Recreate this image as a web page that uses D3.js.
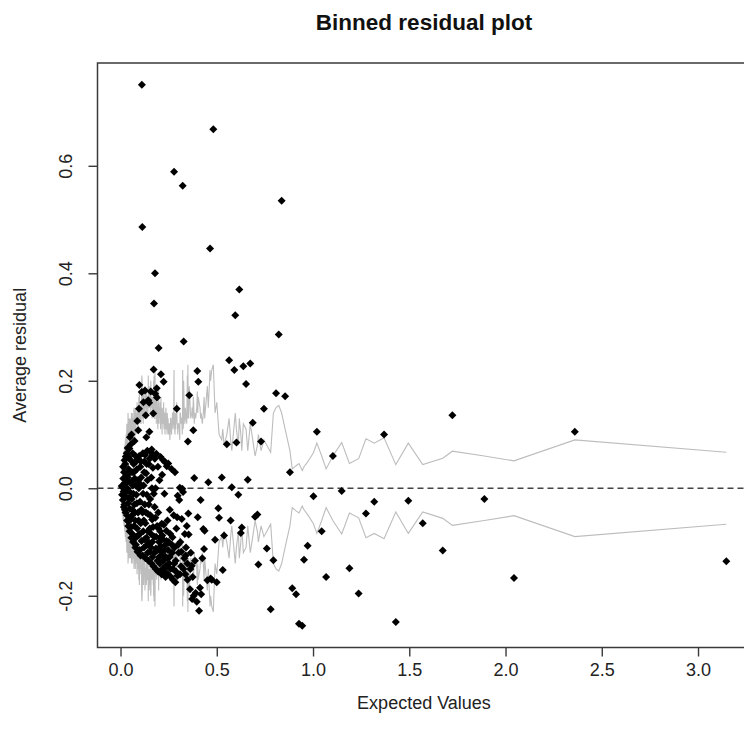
<!DOCTYPE html>
<html>
<head>
<meta charset="utf-8">
<title>Binned residual plot</title>
<script src="https://cdn.jsdelivr.net/npm/d3@7"></script>
<style>
  body { margin: 0; background: #fff; }
  svg { display: block; font-family: "Liberation Sans", Arial, sans-serif; }
  .frame { fill: none; stroke: #3a3a3a; stroke-width: 1.5; }
  .zero { stroke: #444; stroke-width: 1.4; stroke-dasharray: 6 4; }
  .band { fill: none; stroke: #bdbdbd; stroke-width: 1.1; }
  .axis line { stroke: #3a3a3a; stroke-width: 1.4; }
  .axis text { fill: #222; font-size: 18px; font-family: "Liberation Sans", Arial, sans-serif; }
</style>
</head>
<body>
<div id="chart"></div>
<script>
"use strict";
//each bin: [expected value, average residual, 2 * standard error]
//low expected values, the dense cloud
var binsLow = [
  [0.006, 0.004, 0.04], [0.008, -0.012, 0.03], [0.010, 0.002, 0.05], [0.012, -0.022, 0.04],
  [0.014, 0.018, 0.06], [0.016, -0.006, 0.05], [0.018, 0.030, 0.07], [0.020, -0.030, 0.06],
  [0.022, 0.010, 0.08], [0.023, -0.040, 0.07], [0.025, 0.045, 0.09], [0.027, 0.059, 0.08],
  [0.029, -0.016, 0.10], [0.031, 0.024, 0.07], [0.033, -0.050, 0.12], [0.035, 0.000, 0.09],
  [0.037, 0.075, 0.08], [0.039, -0.028, 0.14], [0.041, 0.036, 0.10], [0.043, -0.062, 0.09],
  [0.045, 0.012, 0.11], [0.046, 0.074, 0.08], [0.048, -0.038, 0.13], [0.049, 0.095, 0.10],
  [0.051, -0.008, 0.12], [0.053, 0.052, 0.09], [0.055, -0.072, 0.11], [0.057, 0.100, 0.14],
  [0.058, -0.020, 0.10], [0.060, 0.030, 0.12], [0.062, -0.085, 0.09], [0.064, 0.005, 0.13],
  [0.066, -0.048, 0.11], [0.068, 0.045, 0.10], [0.070, -0.095, 0.15], [0.072, -0.030, 0.12],
  [0.074, 0.018, 0.09], [0.076, -0.060, 0.13], [0.078, 0.060, 0.11], [0.080, -0.105, 0.10],
  [0.082, -0.012, 0.14], [0.084, 0.035, 0.12], [0.086, -0.075, 0.16], [0.087, 0.125, 0.13],
  [0.089, 0.055, 0.15], [0.091, -0.045, 0.11], [0.093, -0.088, 0.12], [0.095, 0.000, 0.17],
  [0.096, 0.148, 0.14], [0.098, 0.192, 0.18], [0.100, -0.115, 0.13], [0.101, -0.025, 0.12],
  [0.103, 0.040, 0.15], [0.105, -0.065, 0.14], [0.107, 0.020, 0.12], [0.109, -0.098, 0.16],
  [0.110, 0.179, 0.20], [0.111, 0.751, 0.21], [0.113, 0.486, 0.19], [0.114, -0.045, 0.13],
  [0.116, 0.065, 0.15], [0.118, -0.080, 0.12], [0.120, 0.005, 0.17], [0.122, -0.110, 0.14],
  [0.124, 0.050, 0.13], [0.126, -0.030, 0.16], [0.127, 0.182, 0.19], [0.129, -0.065, 0.15],
  [0.131, 0.136, 0.18], [0.133, 0.028, 0.14], [0.135, -0.092, 0.16], [0.137, -0.012, 0.13],
  [0.139, 0.070, 0.17], [0.141, -0.120, 0.15], [0.143, -0.048, 0.14], [0.144, 0.164, 0.21],
  [0.146, 0.045, 0.16], [0.148, -0.101, 0.18], [0.149, 0.159, 0.19], [0.150, 0.105, 0.17],
  [0.152, -0.075, 0.15], [0.154, -0.020, 0.14], [0.156, 0.068, 0.16], [0.158, -0.110, 0.19],
  [0.160, 0.020, 0.15], [0.162, 0.072, 0.16], [0.164, -0.058, 0.13], [0.166, -0.128, 0.17],
  [0.168, 0.038, 0.14], [0.170, 0.139, 0.18], [0.172, 0.221, 0.20], [0.174, 0.344, 0.21],
  [0.175, -0.090, 0.15], [0.177, -0.035, 0.13], [0.179, 0.400, 0.22], [0.180, 0.176, 0.17],
  [0.182, 0.000, 0.14], [0.184, -0.112, 0.16], [0.186, 0.064, 0.12], [0.188, 0.186, 0.17],
  [0.189, 0.169, 0.15], [0.190, -0.070, 0.15], [0.192, -0.135, 0.13], [0.194, 0.040, 0.11],
  [0.196, -0.045, 0.14], [0.198, 0.261, 0.19], [0.200, -0.100, 0.12], [0.202, 0.015, 0.15],
  [0.204, -0.140, 0.13], [0.206, -0.080, 0.16], [0.208, 0.058, 0.11], [0.210, 0.212, 0.17],
  [0.212, -0.118, 0.12], [0.214, -0.066, 0.14], [0.216, 0.025, 0.10], [0.218, -0.150, 0.13],
  [0.220, -0.095, 0.15], [0.222, 0.052, 0.12], [0.224, 0.198, 0.16], [0.226, -0.125, 0.11],
  [0.228, -0.010, 0.14], [0.230, -0.155, 0.12], [0.231, 0.049, 0.10], [0.233, -0.105, 0.13],
  [0.236, -0.144, 0.15], [0.238, -0.079, 0.11], [0.240, 0.041, 0.12], [0.242, -0.130, 0.10],
  [0.244, -0.060, 0.13], [0.246, -0.160, 0.12], [0.248, 0.046, 0.11]
];

//more bins packed into the same cloud, they interleave with binsLow
var binsCore = [
  [0.013, 0.040, 0.05], [0.017, -0.035, 0.06], [0.021, 0.052, 0.07], [0.024, -0.008, 0.08],
  [0.026, -0.045, 0.09], [0.030, 0.010, 0.08], [0.032, 0.065, 0.10], [0.034, -0.060, 0.11],
  [0.038, 0.020, 0.09], [0.040, -0.070, 0.12], [0.042, 0.058, 0.10], [0.044, -0.018, 0.13],
  [0.047, -0.080, 0.11], [0.050, 0.030, 0.12], [0.052, -0.055, 0.10], [0.054, 0.082, 0.13],
  [0.056, -0.092, 0.12], [0.059, 0.012, 0.11], [0.061, -0.040, 0.14], [0.063, 0.065, 0.12],
  [0.065, -0.100, 0.13], [0.067, -0.010, 0.10], [0.069, 0.030, 0.13], [0.071, -0.070, 0.11],
  [0.073, 0.088, 0.14], [0.075, -0.045, 0.12], [0.077, -0.110, 0.15], [0.079, 0.005, 0.11],
  [0.081, 0.050, 0.13], [0.083, -0.090, 0.12], [0.085, -0.028, 0.14], [0.088, -0.118, 0.13],
  [0.090, 0.015, 0.12], [0.092, 0.108, 0.15], [0.094, -0.060, 0.13], [0.097, 0.060, 0.16],
  [0.099, -0.085, 0.14], [0.102, 0.008, 0.15], [0.104, -0.125, 0.13], [0.106, 0.050, 0.16],
  [0.108, -0.040, 0.14], [0.115, -0.125, 0.15], [0.117, -0.010, 0.14], [0.119, 0.160, 0.18],
  [0.121, -0.060, 0.15], [0.123, 0.030, 0.16], [0.125, -0.095, 0.14], [0.128, 0.062, 0.17],
  [0.130, -0.130, 0.15], [0.132, -0.045, 0.16], [0.134, 0.095, 0.18], [0.136, 0.045, 0.15],
  [0.138, -0.105, 0.17], [0.140, 0.015, 0.16], [0.142, -0.080, 0.15], [0.145, -0.135, 0.17],
  [0.147, -0.030, 0.15], [0.151, 0.055, 0.16], [0.153, -0.118, 0.18], [0.155, -0.050, 0.15],
  [0.157, 0.180, 0.20], [0.159, -0.085, 0.16], [0.161, -0.140, 0.17], [0.163, 0.000, 0.15],
  [0.165, -0.100, 0.16], [0.167, 0.062, 0.14], [0.169, -0.072, 0.15], [0.171, -0.145, 0.17],
  [0.173, -0.010, 0.14], [0.176, -0.120, 0.16], [0.178, 0.055, 0.13], [0.181, -0.055, 0.15],
  [0.183, -0.150, 0.16], [0.185, -0.090, 0.14], [0.191, -0.115, 0.15], [0.195, -0.155, 0.16],
  [0.197, -0.075, 0.13], [0.201, -0.128, 0.15], [0.205, -0.092, 0.14], [0.209, -0.108, 0.13],
  [0.213, -0.160, 0.15], [0.217, -0.088, 0.14], [0.221, -0.135, 0.13], [0.225, -0.068, 0.12],
  [0.229, -0.115, 0.14], [0.234, -0.165, 0.13], [0.239, -0.098, 0.12], [0.243, -0.145, 0.14],
  [0.247, -0.115, 0.13], [0.255, -0.128, 0.12], [0.260, -0.150, 0.13], [0.267, -0.105, 0.12],
  [0.272, -0.170, 0.14], [0.279, -0.140, 0.12], [0.288, -0.155, 0.13], [0.299, -0.105, 0.12],
  [0.309, -0.160, 0.14], [0.316, -0.118, 0.13], [0.327, -0.150, 0.12], [0.339, -0.125, 0.14],
  [0.348, -0.170, 0.13], [0.363, -0.150, 0.14], [0.375, -0.165, 0.13]
];

//middle range, where the band still jumps from bin to bin
var binsMid = [
  [0.250, -0.100, 0.10], [0.253, -0.140, 0.12], [0.256, -0.040, 0.09], [0.259, -0.085, 0.11],
  [0.262, -0.165, 0.13], [0.265, 0.036, 0.10], [0.268, -0.120, 0.12], [0.270, -0.091, 0.14],
  [0.273, -0.150, 0.11], [0.276, -0.050, 0.13], [0.278, 0.589, 0.22], [0.280, -0.110, 0.12],
  [0.283, 0.030, 0.10], [0.285, -0.175, 0.14], [0.287, -0.135, 0.11], [0.290, -0.075, 0.13],
  [0.292, 0.148, 0.16], [0.294, -0.054, 0.12], [0.296, -0.163, 0.12], [0.297, -0.014, 0.10],
  [0.302, -0.120, 0.12], [0.305, -0.022, 0.11], [0.308, 0.001, 0.09], [0.311, -0.100, 0.14],
  [0.314, -0.145, 0.12], [0.318, -0.057, 0.13], [0.321, -0.001, 0.10], [0.323, 0.563, 0.22],
  [0.325, -0.007, 0.11], [0.328, 0.273, 0.20], [0.331, -0.130, 0.14], [0.334, -0.085, 0.12],
  [0.337, -0.160, 0.15], [0.340, -0.110, 0.13], [0.344, -0.070, 0.12], [0.347, -0.140, 0.21],
  [0.350, 0.087, 0.23], [0.352, -0.047, 0.14], [0.354, -0.086, 0.13], [0.357, 0.173, 0.19],
  [0.361, -0.188, 0.16], [0.365, -0.120, 0.13], [0.370, -0.144, 0.14], [0.372, -0.206, 0.15],
  [0.378, 0.108, 0.17], [0.380, -0.200, 0.16], [0.383, 0.019, 0.12], [0.387, -0.135, 0.14],
  [0.390, -0.195, 0.13], [0.396, -0.211, 0.15], [0.399, 0.218, 0.18], [0.401, -0.054, 0.14],
  [0.404, 0.198, 0.17], [0.408, -0.228, 0.16], [0.413, -0.185, 0.15], [0.416, -0.022, 0.13],
  [0.419, -0.197, 0.14], [0.425, -0.130, 0.12], [0.430, -0.076, 0.14], [0.434, -0.113, 0.17],
  [0.437, -0.079, 0.13], [0.451, -0.171, 0.19], [0.456, 0.011, 0.15], [0.465, 0.446, 0.22],
  [0.468, -0.168, 0.20], [0.474, -0.170, 0.22], [0.482, 0.668, 0.23], [0.491, -0.096, 0.14],
  [0.500, -0.175, 0.16], [0.508, -0.037, 0.12], [0.512, -0.055, 0.10], [0.526, 0.020, 0.09],
  [0.531, -0.152, 0.11], [0.538, -0.088, 0.08], [0.552, 0.082, 0.10], [0.564, 0.238, 0.13],
  [0.572, -0.060, 0.09], [0.578, 0.002, 0.07], [0.591, 0.220, 0.12], [0.596, 0.322, 0.14],
  [0.602, 0.085, 0.11], [0.612, -0.012, 0.08], [0.617, 0.370, 0.13], [0.625, -0.083, 0.10],
  [0.630, -0.073, 0.07], [0.638, 0.227, 0.12], [0.652, 0.194, 0.11], [0.661, 0.016, 0.07],
  [0.674, 0.232, 0.12], [0.687, 0.122, 0.09], [0.699, -0.053, 0.06], [0.711, -0.049, 0.08],
  [0.716, -0.142, 0.10], [0.730, 0.087, 0.07], [0.745, 0.148, 0.09], [0.760, -0.112, 0.08],
  [0.780, -0.225, 0.067], [0.794, -0.134, 0.14], [0.808, 0.177, 0.15], [0.822, 0.286, 0.154],
  [0.837, 0.535, 0.14], [0.855, 0.171, 0.11]
];

//high expected values, few bins
var binsHigh = [
  [0.880, 0.030, 0.070], [0.892, -0.186, 0.036], [0.912, -0.197, 0.042], [0.927, -0.252, 0.046],
  [0.944, -0.256, 0.033], [0.953, -0.133, 0.040], [0.972, -0.107, 0.049], [1.002, -0.015, 0.066],
  [1.020, 0.105, 0.084], [1.045, -0.080, 0.060], [1.068, -0.165, 0.036], [1.103, 0.060, 0.060],
  [1.149, -0.005, 0.085], [1.189, -0.149, 0.046], [1.237, -0.196, 0.055], [1.275, -0.047, 0.092],
  [1.318, -0.025, 0.084], [1.369, 0.100, 0.094], [1.430, -0.249, 0.044], [1.495, -0.023, 0.084],
  [1.570, -0.065, 0.044], [1.674, -0.116, 0.056], [1.724, 0.136, 0.069], [1.890, -0.020, 0.060],
  [2.044, -0.167, 0.051], [2.360, 0.105, 0.090], [3.147, -0.136, 0.067]
];

var xTicks = [0, 0.5, 1, 1.5, 2, 2.5, 3];
var yTicks = [-0.2, 0, 0.2, 0.4, 0.6];
var titleText = "Binned residual plot";
var xLabel = "Expected Values";
var yLabel = "Average residual";

//band lines run through the bins in order of expected value
var bins = binsLow.concat(binsCore, binsMid, binsHigh).sort(function(a, b) {
  return d3.ascending(a[0], b[0]);
});

//plot box, the right edge falls just outside the picture
var w = 744,
  h = 741,
  boxL = 97.5,
  boxR = 750.5,
  boxT = 63,
  boxB = 647.5;

//R style limits: data range plus 4% on each side
function padded(ext) {
  var p = (ext[1] - ext[0]) * 0.04;
  return [ext[0] - p, ext[1] + p];
}

var yValues = [];
bins.forEach(function(d) {
  yValues.push(d[1], d[2], -d[2]);
});

var x = d3
  .scaleLinear()
  .domain(padded(d3.extent(bins, function(d) { return d[0]; })))
  .range([boxL, boxR]);

var y = d3
  .scaleLinear()
  .domain(padded(d3.extent(yValues)))
  .range([boxB, boxT]);

//R prints a plain hyphen for negatives
var fmt = d3
  .formatLocale({ decimal: ".", thousands: ",", grouping: [3], currency: ["", ""], minus: "-" })
  .format(".1f");

var svg = d3
  .select("#chart")
  .append("svg")
  .attr("width", w)
  .attr("height", h);

svg.append("rect").attr("width", w).attr("height", h).attr("fill", "#fff");

//zero reference line
svg
  .append("line")
  .attr("class", "zero")
  .attr("x1", boxL)
  .attr("x2", boxR)
  .attr("y1", y(0))
  .attr("y2", y(0));

//+/- 2 se band
var upper = d3
  .line()
  .x(function(d) { return x(d[0]); })
  .y(function(d) { return y(d[2]); });

var lower = d3
  .line()
  .x(function(d) { return x(d[0]); })
  .y(function(d) { return y(-d[2]); });

svg.append("path").attr("class", "band").attr("d", upper(bins));
svg.append("path").attr("class", "band").attr("d", lower(bins));

//bin averages, drawn as small diamonds
var dot = d3.symbol(d3.symbolSquare, 32);

svg
  .append("g")
  .selectAll("path")
  .data(bins)
  .enter()
  .append("path")
  .attr("d", dot)
  .attr("fill", "#000")
  .attr("transform", function(d) {
    return "translate(" + x(d[0]) + "," + y(d[1]) + ") rotate(45)";
  });

//frame
svg
  .append("rect")
  .attr("class", "frame")
  .attr("x", boxL)
  .attr("y", boxT)
  .attr("width", boxR - boxL)
  .attr("height", boxB - boxT);

//axes
var xAxis = svg
  .append("g")
  .attr("class", "axis")
  .attr("transform", "translate(0," + boxB + ")")
  .call(
    d3
      .axisBottom(x)
      .tickValues(xTicks)
      .tickFormat(fmt)
      .tickSize(9)
      .tickPadding(7)
  );
xAxis.select(".domain").remove();

var yAxis = svg
  .append("g")
  .attr("class", "axis")
  .attr("transform", "translate(" + boxL + ",0)")
  .call(
    d3
      .axisLeft(y)
      .tickValues(yTicks)
      .tickFormat(fmt)
      .tickSize(9)
  );
yAxis.select(".domain").remove();

//y labels run along the axis as in base R
yAxis
  .selectAll(".tick text")
  .attr("transform", "rotate(-90)")
  .attr("x", 0)
  .attr("y", -32)
  .attr("dy", "0.35em")
  .attr("text-anchor", "middle");

svg
  .append("text")
  .attr("x", (boxL + boxR) / 2)
  .attr("y", 30)
  .attr("text-anchor", "middle")
  .attr("font-weight", "bold")
  .attr("font-size", 22.5)
  .attr("fill", "#111")
  .text(titleText);

svg
  .append("text")
  .attr("x", (boxL + boxR) / 2)
  .attr("y", 709)
  .attr("text-anchor", "middle")
  .attr("font-size", 18)
  .attr("fill", "#222")
  .text(xLabel);

svg
  .append("text")
  .attr("transform", "translate(26," + (boxT + boxB) / 2 + ") rotate(-90)")
  .attr("text-anchor", "middle")
  .attr("font-size", 18)
  .attr("fill", "#222")
  .text(yLabel);
</script>
</body>
</html>
